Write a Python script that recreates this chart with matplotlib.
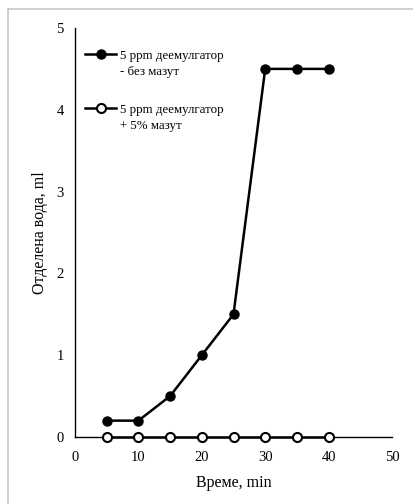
import matplotlib
matplotlib.use("Agg")
import matplotlib.pyplot as plt
from matplotlib.lines import Line2D
from matplotlib.legend_handler import HandlerLine2D

plt.rcParams['font.family'] = ['Liberation Serif', 'DejaVu Serif']

time_min = [5, 10, 15, 20, 25, 30, 35, 40]
water_no_fuel = [0.2, 0.2, 0.5, 1.0, 1.5, 4.5, 4.5, 4.5]
water_with_fuel = [0, 0, 0, 0, 0, 0, 0, 0]
label_no_fuel = "5 ppm деемулгатор\n- без мазут"
label_with_fuel = "5 ppm деемулгатор\n+ 5% мазут"
x_ticks = [0, 10, 20, 30, 40, 50]
y_ticks = [0, 1, 2, 3, 4, 5]

LEG_FS = 9.3
LEG_LS = 1.5


class TopAlignedLine(HandlerLine2D):
    """Legend handle aligned with the first line of a two-line label."""
    def create_artists(self, legend, orig_handle, xdescent, ydescent,
                       width, height, fontsize, trans):
        arts = super().create_artists(legend, orig_handle, xdescent, ydescent,
                                      width, height, fontsize, trans)
        for a in arts:
            a.set_ydata([y + 0.5 * LEG_LS * fontsize for y in a.get_ydata()])
        return arts


W, H = 413, 504
fig = plt.figure(figsize=(W / 100, H / 100), dpi=100)
ax = fig.add_axes([75 / W, 1 - 437 / H, (392 - 75) / W, (437 - 28) / H])

ax.plot(time_min, water_no_fuel, color='black', lw=1.8, marker='o', ms=6.5,
        mfc='black', mec='black', label=label_no_fuel, zorder=3)
ax.plot(time_min, water_with_fuel, color='black', lw=1.8, marker='o', ms=6.5,
        mfc='white', mec='black', mew=1.5, label=label_with_fuel, zorder=3,
        clip_on=False)

ax.set_xlim(0, 50)
ax.set_ylim(0, 5)
ax.set_xticks(x_ticks)
ax.set_yticks(y_ticks)
ax.tick_params(length=0, labelsize=10.5, pad=8)
ax.tick_params(axis='x', pad=10)
for s in ['top', 'right']:
    ax.spines[s].set_visible(False)
for s in ['left', 'bottom']:
    ax.spines[s].set_linewidth(1.0)
    ax.spines[s].set_color('black')

ax.set_xlabel("Време, min", fontsize=11.5, labelpad=8)
ax.set_ylabel("Отделена вода, ml", fontsize=11.5, labelpad=6)

leg = ax.legend(loc='upper left', bbox_to_anchor=(-0.005, 0.975), frameon=False,
                fontsize=LEG_FS, handlelength=2.4, handletextpad=0.3,
                labelspacing=1.95, borderaxespad=0.5,
                handler_map={Line2D: TopAlignedLine()})
for t in leg.get_texts():
    t.set_linespacing(LEG_LS)

# outer chart-area border (top and left visible)
fig.add_artist(Line2D([8 / W, 1], [1 - 9 / H, 1 - 9 / H], color='#c8c8c8', lw=1.2,
                      transform=fig.transFigure))
fig.add_artist(Line2D([8 / W, 8 / W], [0, 1 - 9 / H], color='#c8c8c8', lw=1.2,
                      transform=fig.transFigure))

fig.savefig("out.png", dpi=100)
